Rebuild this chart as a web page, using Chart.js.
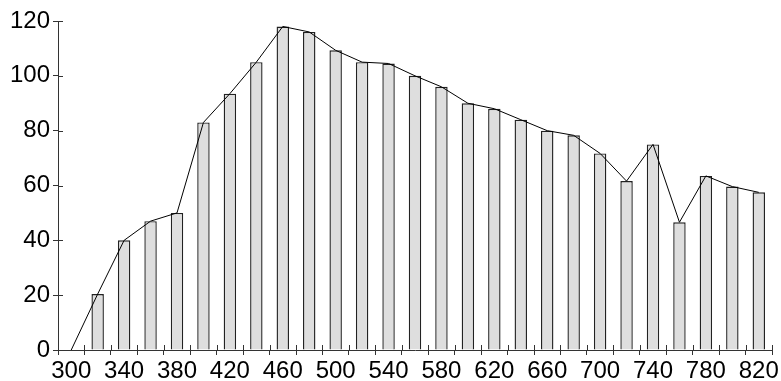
<!DOCTYPE html>
<html>
<head>
<meta charset="utf-8">
<script src="https://cdn.jsdelivr.net/npm/chart.js@4/dist/chart.umd.min.js"></script>
<style>
  html, body { margin: 0; padding: 0; background: #fff; }
  #wrap { width: 781px; height: 381px; }
</style>
</head>
<body>
<div id="wrap"><canvas id="spectrum" width="781" height="381"></canvas></div>
<script>
// wavelength bins (every 20), first bin has no bar
const wavelengths = [300, 320, 340, 360, 380, 400, 420, 440, 460, 480, 500, 520, 540, 560,
  580, 600, 620, 640, 660, 680, 700, 720, 740, 760, 780, 800, 820];
const barValues = [null, 20.4, 40, 47, 50, 83, 93.5, 105, 118, 116, 109.3, 105, 104.5, 100,
  96, 90, 88, 84, 80, 78.3, 71.7, 61.6, 75, 46.6, 63.5, 59.6, 57.5];
// outline starts from zero at 300
const lineValues = [0, 20.4, 40, 47, 50, 83, 93.5, 105, 118, 116, 109.3, 105, 104.5, 100,
  96, 90, 88, 84, 80, 78.3, 71.7, 61.6, 75, 46.6, 63.5, 59.6, 57.5];
const yTicks = [0, 20, 40, 60, 80, 100, 120];

const axisColor = '#333';
Chart.defaults.font.family = 'Arial, "Liberation Sans", sans-serif';
Chart.defaults.font.size = 24;
const tickFont = { family: 'Arial, "Liberation Sans", sans-serif', size: 24 };

// tick marks that cross the axis line: the library draws the outer half,
// this adds the inner half at the same scale positions
const crossTicks = {
  id: 'crossTicks',
  afterDraw(chart) {
    const ctx = chart.ctx;
    const xs = chart.scales.x, ys = chart.scales.y;
    ctx.save();
    ctx.strokeStyle = axisColor;
    ctx.lineWidth = 1;
    ctx.beginPath();
    ys.ticks.forEach((t, i) => {
      const py = Math.round(ys.getPixelForTick(i)) + 0.5;
      ctx.moveTo(ys.right, py);
      ctx.lineTo(ys.right + 5, py);
    });
    const n = wavelengths.length;
    const half = (xs.getPixelForValue(1) - xs.getPixelForValue(0)) / 2;
    for (let i = 0; i <= n; i++) {
      const px = Math.round(i < n ? xs.getPixelForValue(i) - half : xs.getPixelForValue(n - 1) + half) + 0.5;
      ctx.moveTo(px, xs.top);
      ctx.lineTo(px, xs.top - 5);
    }
    ctx.stroke();
    ctx.restore();
  }
};

new Chart(document.getElementById('spectrum'), {
  type: 'bar',
  data: {
    labels: wavelengths,
    datasets: [
      {
        type: 'line',
        data: lineValues,
        borderColor: '#000',
        borderWidth: 1,
        pointRadius: 0,
        tension: 0,
        fill: false,
        order: 0
      },
      {
        data: barValues,
        backgroundColor: '#dedede',
        borderColor: '#222',
        borderWidth: 1.4,
        barPercentage: 0.47,
        categoryPercentage: 1,
        order: 1
      }
    ]
  },
  options: {
    responsive: false,
    animation: false,
    devicePixelRatio: 1,
    layout: { padding: { top: 21, right: 9, left: 0, bottom: 0 } },
    plugins: { legend: { display: false }, tooltip: { enabled: false } },
    scales: {
      x: {
        offset: true,
        border: { color: axisColor, width: 1 },
        grid: { drawOnChartArea: false, tickLength: 5, color: axisColor, offset: true },
        ticks: {
          autoSkip: false,
          maxRotation: 0,
          color: '#000',
          font: tickFont,
          padding: 2,
          callback: (v, i) => (i % 2 === 0 ? String(wavelengths[i]) : '')
        },
        afterFit: s => { s.height = 31; }
      },
      y: {
        min: 0,
        max: 120,
        border: { color: axisColor, width: 1 },
        grid: { drawOnChartArea: false, tickLength: 5, color: axisColor },
        afterBuildTicks: s => { s.ticks = yTicks.map(v => ({ value: v })); },
        ticks: { color: '#000', font: tickFont, padding: 3 },
        afterFit: s => { s.width = 58; }
      }
    }
  },
  plugins: [crossTicks]
});
</script>
</body>
</html>
